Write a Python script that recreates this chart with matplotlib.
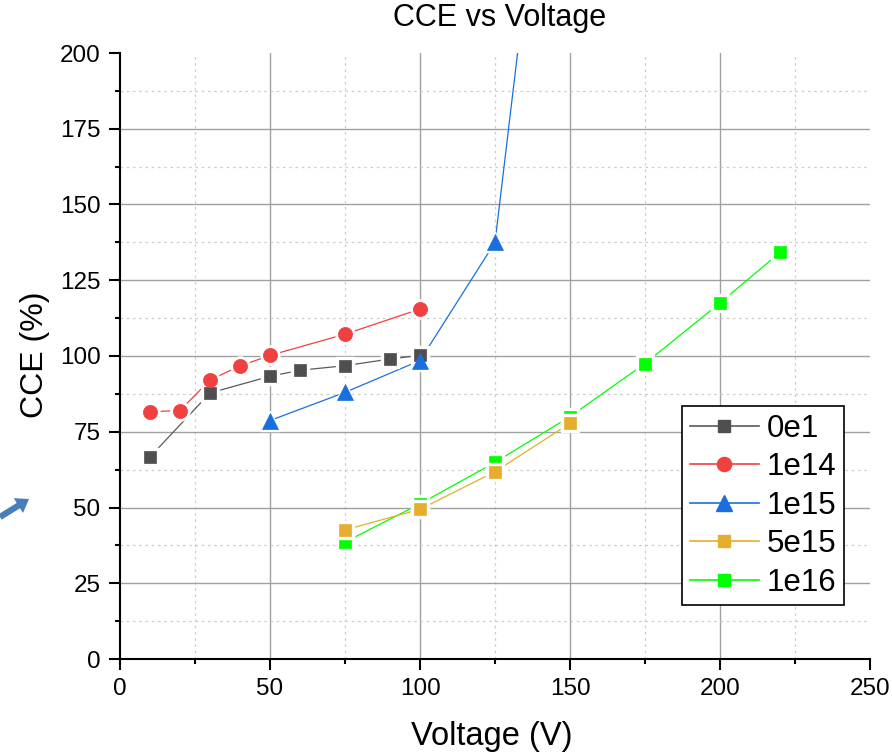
import matplotlib
matplotlib.use("Agg")
import matplotlib.pyplot as plt
from matplotlib.ticker import MultipleLocator

plt.rcParams['font.family'] = ['Liberation Sans', 'DejaVu Sans']

# ---- data ----
v_0e1 = [10, 30, 50, 60, 75, 90, 100]
cce_0e1 = [66.7, 87.8, 93.3, 95.3, 96.8, 99.0, 100.2]

v_1e14 = [10, 20, 30, 40, 50, 75, 100]
cce_1e14 = [81.6, 82.0, 92.1, 96.7, 100.2, 107.2, 115.5]

v_1e15 = [50, 75, 100, 125, 150]
cce_1e15 = [78.7, 88.0, 98.5, 137.5, 345.0]

v_5e15 = [75, 100, 125, 150]
cce_5e15 = [42.6, 49.4, 61.8, 77.8]

v_1e16 = [75, 100, 125, 150, 175, 200, 220]
cce_1e16 = [38.6, 51.2, 64.9, 80.0, 97.5, 117.5, 134.2]

labels = ['0e1', '1e14', '1e15', '5e15', '1e16']
title = 'CCE vs Voltage'
xlabel = 'Voltage (V)'
ylabel = 'CCE (%)'

W, H = 892, 754
fig = plt.figure(figsize=(W / 100, H / 100), dpi=100)
ax = fig.add_axes([120 / W, 95 / H, 750 / W, 606 / H])

series = [
    (v_0e1, cce_0e1, labels[0], '#4f4f4f', '#5a5a5a', 's', 9.2, 5),
    (v_1e14, cce_1e14, labels[1], '#f14040', '#f14040', 'o', 10.2, 5),
    (v_1e15, cce_1e15, labels[2], '#1a6fdf', '#1a6fdf', '^', 11.0, 5),
    (v_1e16, cce_1e16, labels[4], '#00ff00', '#00ff00', 's', 9.2, 5),
    (v_5e15, cce_5e15, labels[3], '#e6ad2e', '#e6ad2e', 's', 9.2, 6),
]

handles = {}
for x, y, lab, mc, lc, mk, ms, z in series:
    ax.plot(x, y, color=lc, lw=0.9, zorder=z, clip_on=True)
    # white halo to create the gap between line and marker
    ax.plot(x, y, ls='none', marker=mk, ms=ms + 3.5, mfc='white', mec='white',
            zorder=z + 0.1)
    ax.plot(x, y, ls='none', marker=mk, ms=ms, mfc=mc, mec=mc, mew=0.5,
            zorder=z + 0.2)
    h, = ax.plot([], [], color=lc, lw=1.2, marker=mk, ms=ms, mfc=mc, mec=mc)
    handles[lab] = h

ax.set_xlim(0, 250)
ax.set_ylim(0, 200)
ax.xaxis.set_major_locator(MultipleLocator(50))
ax.xaxis.set_minor_locator(MultipleLocator(25))
ax.yaxis.set_major_locator(MultipleLocator(25))
ax.yaxis.set_minor_locator(MultipleLocator(12.5))

ax.grid(which='major', color='#a0a0a0', lw=1.0, zorder=0)
ax.grid(which='minor', color='#cccccc', lw=0.9, ls=(0, (2, 3)), zorder=0)
ax.set_axisbelow(True)
fig.canvas.draw()
for gl in ax.get_xgridlines():
    if abs(gl.get_xdata()[0] - 250) < 1e-6 or abs(gl.get_xdata()[0]) < 1e-6:
        gl.set_visible(False)
for gl in ax.get_ygridlines():
    if abs(gl.get_ydata()[0] - 200) < 1e-6 or abs(gl.get_ydata()[0]) < 1e-6:
        gl.set_visible(False)

for s in ['top', 'right']:
    ax.spines[s].set_visible(False)
for s in ['left', 'bottom']:
    ax.spines[s].set_linewidth(1.5)
    ax.spines[s].set_color('black')

ax.tick_params(which='major', direction='out', length=8, width=1.5,
               labelsize=17.5, pad=6)
ax.tick_params(which='minor', direction='out', length=3.8, width=1.5)

ax.set_xlabel(xlabel, fontsize=23.5)
ax.xaxis.set_label_coords((492 - 120) / 750, (659 - 736) / 606)
ax.xaxis.label.set_va('center')
ax.set_ylabel(ylabel, fontsize=23)
ax.yaxis.set_label_coords((35 - 120) / 750, (659 - 355) / 606)
ax.yaxis.label.set_va('center')

fig.text(500 / W, 1 - 18 / H, title, ha='center', va='center', fontsize=22)

leg = ax.legend([handles[l] for l in labels], labels, loc='upper left',
                bbox_to_anchor=((682 - 120) / 750, (659 - 406) / 606),
                borderaxespad=0, fontsize=22.5, frameon=True, fancybox=False,
                edgecolor='black', framealpha=1, handlelength=2.2,
                handletextpad=0.26, labelspacing=0.27, borderpad=0.25)
leg.get_frame().set_linewidth(1.2)

# decorative arrow at the left edge
ax.annotate('', xy=(29 / W, 1 - 499 / H), xytext=(0 / W, 1 - 517 / H),
            xycoords='figure fraction', textcoords='figure fraction',
            arrowprops=dict(arrowstyle='simple,head_width=0.7,head_length=0.5,tail_width=0.25',
                            mutation_scale=18, color='#4a7ebb', lw=0,
                            shrinkA=0, shrinkB=0),
            annotation_clip=False)

fig.savefig('out.png', dpi=100)
